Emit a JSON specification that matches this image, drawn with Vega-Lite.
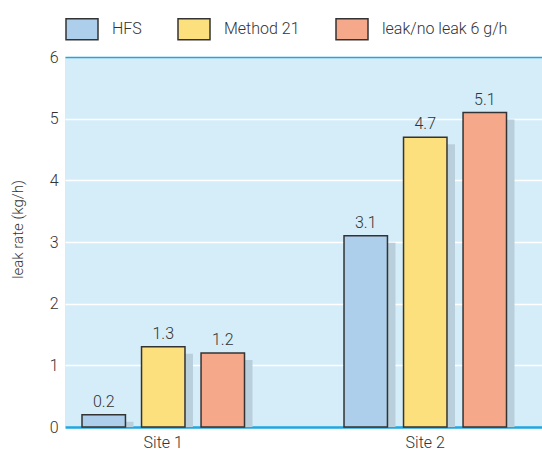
{
  "$schema": "https://vega.github.io/schema/vega-lite/v6.json",
  "width": 477,
  "height": 370,
  "autosize": {"type": "none"},
  "padding": {"left": 65, "top": 57, "right": 0, "bottom": 27},
  "background": "white",
  "config": {
    "view": {"fill": "#d5ecf9", "stroke": null},
    "font": "Roboto",
    "axis": {"labelFont": "Roboto", "titleFont": "Roboto", "labelFontWeight": 300, "titleFontWeight": 300, "labelColor": "#333333", "titleColor": "#333333"},
    "legend": {"labelFont": "Roboto", "labelFontWeight": 300}
  },
  "data": {
    "values": [
      {"site": "Site 1", "method": "HFS", "rate": 0.2},
      {"site": "Site 1", "method": "Method 21", "rate": 1.3},
      {"site": "Site 1", "method": "leak/no leak 6 g/h", "rate": 1.2},
      {"site": "Site 2", "method": "HFS", "rate": 3.1},
      {"site": "Site 2", "method": "Method 21", "rate": 4.7},
      {"site": "Site 2", "method": "leak/no leak 6 g/h", "rate": 5.1}
    ]
  },
  "encoding": {
    "x": {
      "field": "site",
      "type": "nominal",
      "scale": {"paddingInner": 0.3798, "paddingOuter": 0.1002, "align": 0.324},
      "axis": {"title": null, "labelAngle": 0, "ticks": false, "domain": false, "labelFontSize": 16, "labelPadding": 7}
    },
    "y": {
      "field": "rate",
      "type": "quantitative",
      "scale": {"domain": [0, 6], "nice": false},
      "axis": {
        "title": "leak rate (kg/h)",
        "values": [0, 1, 2, 3, 4, 5, 6],
        "ticks": false,
        "domain": false,
        "labelFontSize": 16,
        "labelPadding": 7,
        "titleFontSize": 15,
        "titleX": -43,
        "titleY": 172,
        "titleAngle": -90,
        "titleAlign": "center",
        "titleBaseline": "alphabetic",
        "gridColor": {"condition": {"test": "datum.value == 0 || datum.value == 6", "value": "#1ea7e1"}, "value": "#ffffff"},
        "gridWidth": {"condition": {"test": "datum.value == 0", "value": 2.5}, "value": 1.5},
        "gridOpacity": 1
      }
    }
  },
  "layer": [
    {
      "mark": {"type": "bar", "color": "#b9d0dc", "yOffset": 7, "clip": true},
      "encoding": {
        "xOffset": {
          "field": "method",
          "type": "nominal",
          "sort": ["HFS", "Method 21", "leak/no leak 6 g/h"],
          "scale": {"type": "band", "paddingInner": 0.27, "paddingOuter": 0, "range": [8, 170.5]}
        }
      }
    },
    {
      "mark": {"type": "bar", "stroke": "#333333", "strokeWidth": 1.5},
      "encoding": {
        "xOffset": {
          "field": "method",
          "type": "nominal",
          "sort": ["HFS", "Method 21", "leak/no leak 6 g/h"],
          "scale": {"type": "band", "paddingInner": 0.27, "paddingOuter": 0}
        },
        "color": {
          "field": "method",
          "type": "nominal",
          "sort": ["HFS", "Method 21", "leak/no leak 6 g/h"],
          "scale": {"domain": ["HFS", "Method 21", "leak/no leak 6 g/h"], "range": ["#aecfec", "#fde07e", "#f6a98a"]},
          "legend": {
            "title": null,
            "orient": "none",
            "legendX": 0,
            "legendY": -45,
            "direction": "horizontal",
            "columns": 3,
            "padding": 0,
            "symbolType": "M-1,-0.656H1V0.656H-1Z",
            "symbolSize": 1024,
            "symbolStrokeColor": "#333333",
            "symbolStrokeWidth": 1.5,
            "symbolOpacity": 1,
            "labelFontSize": 16,
            "labelColor": "#333333",
            "labelOffset": 13,
            "columnPadding": 33
          }
        }
      }
    },
    {
      "mark": {"type": "text", "baseline": "bottom", "align": "center", "dy": -5, "fontSize": 16, "fontWeight": 300, "color": "#333333"},
      "encoding": {
        "xOffset": {
          "field": "method",
          "type": "nominal",
          "sort": ["HFS", "Method 21", "leak/no leak 6 g/h"],
          "bandPosition": 0.5,
          "scale": {"type": "band", "paddingInner": 0.27, "paddingOuter": 0}
        },
        "text": {"field": "rate", "type": "quantitative", "format": ".1f"}
      }
    }
  ],
  "resolve": {"scale": {"xOffset": "independent"}}
}
